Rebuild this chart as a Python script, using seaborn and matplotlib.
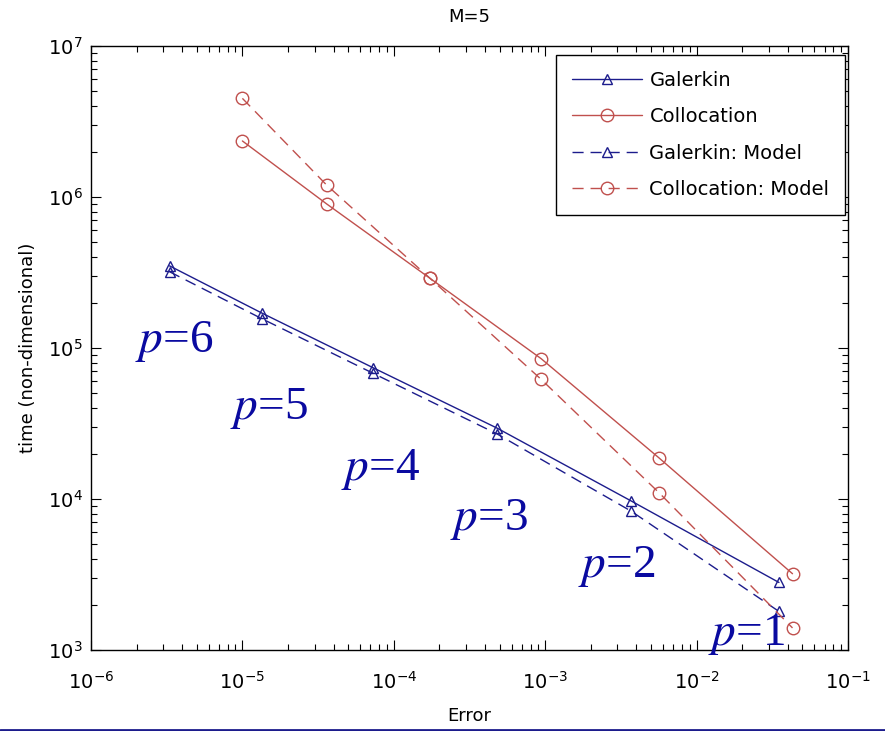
import numpy as np
import pandas as pd
import matplotlib
matplotlib.use("Agg")
import matplotlib.pyplot as plt
import seaborn as sns
from matplotlib.ticker import LogLocator, FuncFormatter, NullFormatter
from matplotlib.lines import Line2D

# ---- data ----
galerkin_err = [3.3e-6, 1.35e-5, 7.3e-5, 4.8e-4, 3.7e-3, 3.5e-2]
galerkin_time = [3.5e5, 1.7e5, 7.4e4, 2.95e4, 9.7e3, 2.8e3]
galerkin_model_time = [3.2e5, 1.56e5, 6.8e4, 2.7e4, 8.3e3, 1.8e3]

colloc_err = [1.0e-5, 3.6e-5, 1.73e-4, 9.4e-4, 5.65e-3, 4.3e-2]
colloc_time = [2.35e6, 9.0e5, 2.9e5, 8.5e4, 1.87e4, 3.2e3]
colloc_model_time = [4.5e6, 1.2e6, 2.9e5, 6.2e4, 1.1e4, 1.4e3]

p_labels = ["6", "5", "4", "3", "2", "1"]
p_label_pos = [(1.95e-6, 9.4e4), (8.3e-6, 3.4e4), (4.5e-5, 1.34e4), (2.35e-4, 6.2e3),
               (1.65e-3, 3.04e3), (1.19e-2, 1.08e3)]

sns.set_style("ticks")
plt.rcParams["font.family"] = ["DejaVu Sans"]
plt.rcParams["mathtext.fontset"] = "dejavusans"
plt.rcParams["text.color"] = "black"
plt.rcParams["axes.labelcolor"] = "black"

blue = "#1c1c8c"
red = "#c0504d"

fig = plt.figure(figsize=(8.85, 7.31), dpi=100)
ax = fig.add_axes([91/885, 1-650/731, (848-91)/885, (650-46)/731])

sns.lineplot(x=galerkin_err, y=galerkin_time, ax=ax, color=blue, lw=1.0,
             marker="^", markersize=7, markerfacecolor="none", markeredgecolor=blue,
             markeredgewidth=1.0, label="Galerkin", sort=False)
sns.lineplot(x=colloc_err, y=colloc_time, ax=ax, color=red, lw=1.0,
             marker="o", markersize=9, markerfacecolor="none", markeredgecolor=red,
             markeredgewidth=1.0, label="Collocation", sort=False)
sns.lineplot(x=galerkin_err, y=galerkin_model_time, ax=ax, color=blue, lw=1.0,
             linestyle=(0, (8, 5)),
             marker="^", markersize=7, markerfacecolor="none", markeredgecolor=blue,
             markeredgewidth=1.0, label="Galerkin: Model", sort=False)
sns.lineplot(x=colloc_err, y=colloc_model_time, ax=ax, color=red, lw=1.0,
             linestyle=(0, (8, 5)),
             marker="o", markersize=9, markerfacecolor="none", markeredgecolor=red,
             markeredgewidth=1.0, label="Collocation: Model", sort=False)

ax.set_xscale("log")
ax.set_yscale("log")
ax.set_xlim(1e-6, 1e-1)
ax.set_ylim(1e3, 1e7)

def fmt(v, pos):
    e = int(round(np.log10(v)))
    return r"$\mathregular{10^{%d}}$" % e

ax.xaxis.set_major_locator(LogLocator(base=10, numticks=10))
ax.yaxis.set_major_locator(LogLocator(base=10, numticks=10))
ax.xaxis.set_minor_locator(LogLocator(base=10, subs=np.arange(2, 10), numticks=20))
ax.yaxis.set_minor_locator(LogLocator(base=10, subs=np.arange(2, 10), numticks=20))
ax.xaxis.set_major_formatter(FuncFormatter(fmt))
ax.yaxis.set_major_formatter(FuncFormatter(fmt))
ax.xaxis.set_minor_formatter(NullFormatter())
ax.yaxis.set_minor_formatter(NullFormatter())

ax.tick_params(which="both", direction="in", top=True, right=True, colors="black",
               labelsize=14, width=0.8)
ax.tick_params(which="major", length=7)
ax.tick_params(axis="x", which="major", pad=15)
ax.tick_params(axis="y", which="major", pad=6)
ax.tick_params(which="minor", length=4)
for s in ax.spines.values():
    s.set_visible(True)
    s.set_color("black")
    s.set_linewidth(1.0)

ax.set_title("M=5", fontsize=13, pad=17, color="black")
ax.set_xlabel("Error", fontsize=13, labelpad=10)
ax.set_ylabel("time (non-dimensional)", fontsize=13, labelpad=8)

leg = ax.legend(loc="upper right", bbox_to_anchor=(0.996, 0.985), borderaxespad=0,
                fontsize=14, frameon=True, fancybox=False,
                edgecolor="black", framealpha=1, handlelength=3.6, handletextpad=0.4,
                borderpad=0.8, labelspacing=0.9)
leg.get_frame().set_linewidth(1.0)

for lab, (x, y) in zip(p_labels, p_label_pos):
    ax.text(x, y, r"$p$=" + lab, fontsize=34, color="#0a0aa0",
            family="Liberation Serif", math_fontfamily="stix", zorder=5)

fig.add_artist(Line2D([0, 1], [0.002, 0.002], transform=fig.transFigure,
                      color="#1c1c8c", lw=2))

fig.savefig("out.png", dpi=100, facecolor="white")
